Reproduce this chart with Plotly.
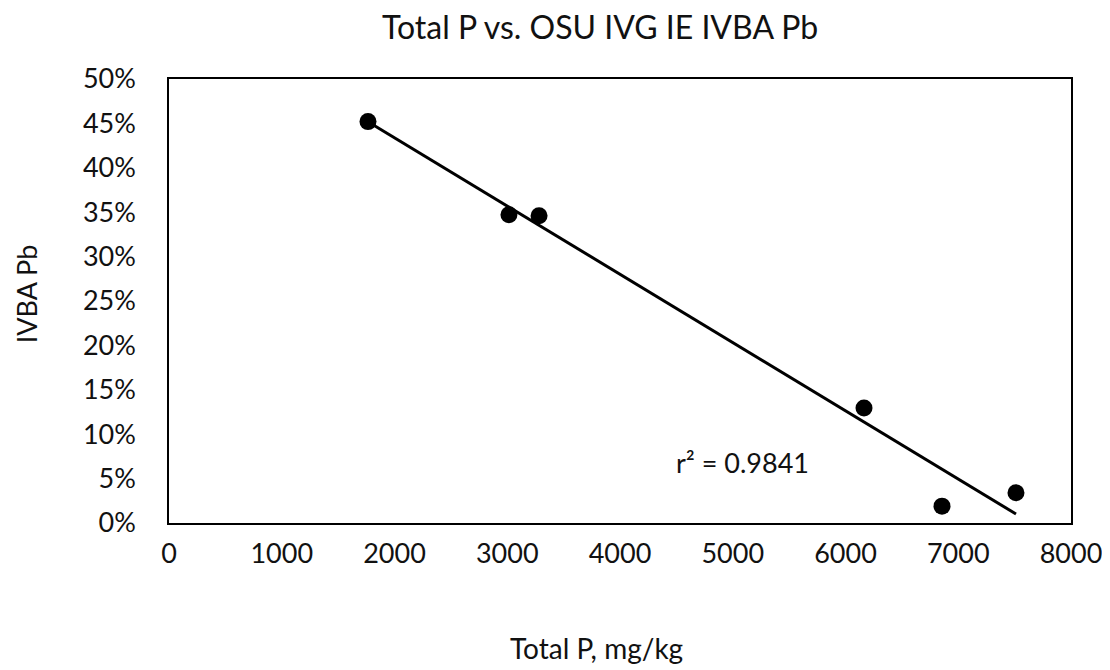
import numpy as np
import plotly.graph_objects as go

total_p = [1765, 3015, 3282, 6164, 6856, 7512]
ivba_pb = [0.452, 0.347, 0.346, 0.1295, 0.019, 0.034]

x_ticks = [0, 1000, 2000, 3000, 4000, 5000, 6000, 7000, 8000]
y_ticks = [0, 0.05, 0.10, 0.15, 0.20, 0.25, 0.30, 0.35, 0.40, 0.45, 0.50]
title_text = "Total P vs. OSU IVG IE IVBA Pb"
x_title = "Total P, mg/kg"
y_title = "IVBA Pb"
r2_label = "r² = 0.9841"

slope, intercept = np.polyfit(total_p, ivba_pb, 1)
tx = [min(total_p), max(total_p)]
ty = [slope * v + intercept for v in tx]

font_family = "Lato, 'Open Sans', sans-serif"
txt_color = "#111"

fig = go.Figure()
fig.add_trace(go.Scatter(x=tx, y=ty, mode="lines",
                         line=dict(color="black", width=3), showlegend=False,
                         hoverinfo="skip"))
fig.add_trace(go.Scatter(x=total_p, y=ivba_pb, mode="markers",
                         marker=dict(color="black", size=17), showlegend=False))

fig.update_layout(
    width=1102, height=662,
    margin=dict(l=161, r=39, t=71, b=147),
    paper_bgcolor="white", plot_bgcolor="white",
    font=dict(family=font_family, size=27, color=txt_color),
    xaxis=dict(range=[0, 8000], tickvals=x_ticks, ticktext=[str(v) for v in x_ticks],
               showgrid=False, zeroline=False, showline=True, linecolor="black",
               linewidth=1.5, mirror=True, ticks="", ticklen=0,
               ticklabelstandoff=6, automargin=False,
               tickfont=dict(size=27, color=txt_color)),
    yaxis=dict(range=[0, 0.50], tickvals=y_ticks, tickformat=".0%",
               showgrid=False, zeroline=False, showline=True, linecolor="black",
               linewidth=1.5, mirror=True, ticks="", ticklen=0,
               ticklabelstandoff=26, automargin=False,
               tickfont=dict(size=27, color=txt_color)),
    annotations=[
        dict(text=title_text, xref="paper", yref="paper", x=0.478, y=1.118,
             xanchor="center", yanchor="middle", showarrow=False,
             font=dict(size=32, color=txt_color)),
        dict(text=x_title, xref="paper", yref="paper", x=0.4745, y=-0.282,
             xanchor="center", yanchor="middle", showarrow=False,
             font=dict(size=28, color=txt_color)),
        dict(text=y_title, xref="paper", yref="paper", x=-0.157, y=0.516,
             xanchor="center", yanchor="middle", textangle=-90, showarrow=False,
             font=dict(size=27, color=txt_color)),
        dict(text=r2_label, x=5082, y=0.0676, xanchor="center", yanchor="middle",
             showarrow=False, font=dict(size=27, color=txt_color)),
    ],
)

fig.write_html("out.html")
